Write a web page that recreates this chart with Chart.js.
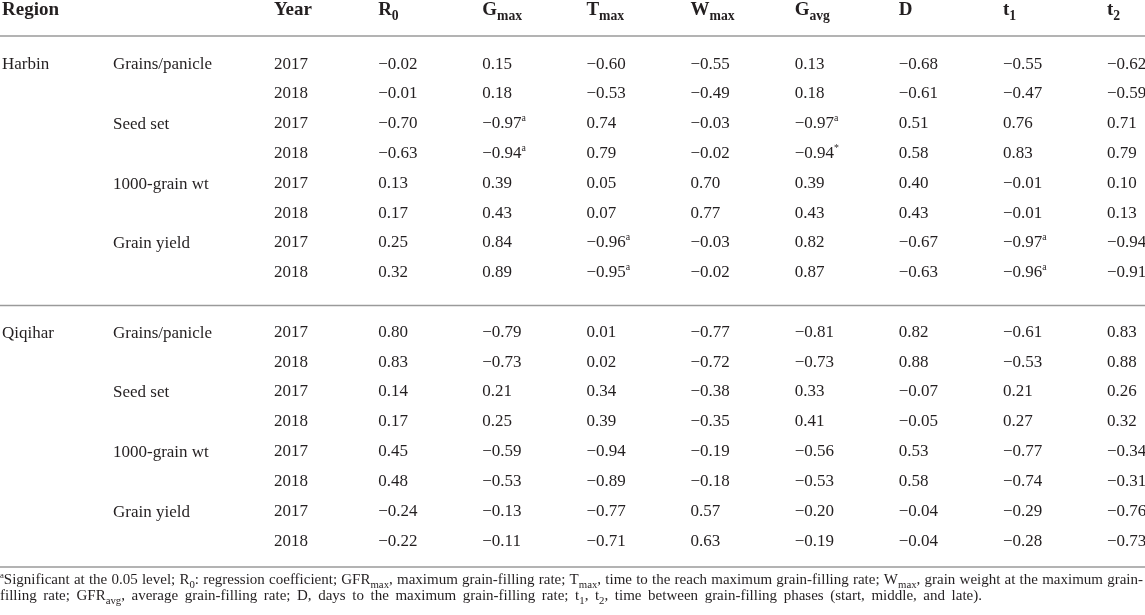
<!DOCTYPE html>
<html>
<head>
<meta charset="utf-8">
<script src="https://cdn.jsdelivr.net/npm/chart.js@4.4.1/dist/chart.umd.min.js"></script>
<style>
  html, body { margin: 0; padding: 0; background: #fff; }
</style>
</head>
<body>
<canvas id="table" width="1145" height="615"></canvas>
<script>
const regions = ['Harbin', 'Qiqihar'];
const traits = ['Grains/panicle', 'Seed set', '1000-grain wt', 'Grain yield'];
const years = ['2017', '2018'];

// column keys, and how the header is written (base + subscript)
const columns = ['Year', 'R0', 'Gmax', 'Tmax', 'Wmax', 'Gavg', 'D', 't1', 't2'];
const headerBase = ['Year', 'R', 'G', 'T', 'W', 'G', 'D', 't', 't'];
const headerSub = ['', '0', 'max', 'max', 'max', 'avg', '', '1', '2'];

// 16 rows per column: Harbin (8) then Qiqihar (8), trait x year order
const R0   = [-0.02, -0.01, -0.70, -0.63, 0.13, 0.17, 0.25, 0.32,   0.80, 0.83, 0.14, 0.17, 0.45, 0.48, -0.24, -0.22];
const Gmax = [0.15, 0.18, -0.97, -0.94, 0.39, 0.43, 0.84, 0.89,     -0.79, -0.73, 0.21, 0.25, -0.59, -0.53, -0.13, -0.11];
const Tmax = [-0.60, -0.53, 0.74, 0.79, 0.05, 0.07, -0.96, -0.95,   0.01, 0.02, 0.34, 0.39, -0.94, -0.89, -0.77, -0.71];
const Wmax = [-0.55, -0.49, -0.03, -0.02, 0.70, 0.77, -0.03, -0.02, -0.77, -0.72, -0.38, -0.35, -0.19, -0.18, 0.57, 0.63];
const Gavg = [0.13, 0.18, -0.97, -0.94, 0.39, 0.43, 0.82, 0.87,     -0.81, -0.73, 0.33, 0.41, -0.56, -0.53, -0.20, -0.19];
const D    = [-0.68, -0.61, 0.51, 0.58, 0.40, 0.43, -0.67, -0.63,   0.82, 0.88, -0.07, -0.05, 0.53, 0.58, -0.04, -0.04];
const t1   = [-0.55, -0.47, 0.76, 0.83, -0.01, -0.01, -0.97, -0.96, -0.61, -0.53, 0.21, 0.27, -0.77, -0.74, -0.29, -0.28];
const t2   = [-0.62, -0.59, 0.71, 0.79, 0.10, 0.13, -0.94, -0.91,   0.83, 0.88, 0.26, 0.32, -0.34, -0.31, -0.76, -0.73];

// [column, row, mark]
const significant = [
    ['Gmax', 2, 'a'], ['Gmax', 3, 'a'],
    ['Tmax', 6, 'a'], ['Tmax', 7, 'a'],
    ['Gavg', 2, 'a'], ['Gavg', 3, '*'],
    ['t1', 6, 'a'], ['t1', 7, 'a']
];

const footnote = [
    [['a', 'sup'], ['Significant at the 0.05 level; R'], ['0', 'sub'], [': regression coefficient; GFR'], ['max', 'sub'],
     [', maximum grain-filling rate; T'], ['max', 'sub'], [', time to the reach maximum grain-filling rate; W'], ['max', 'sub'],
     [', grain weight at the maximum grain-']],
    [['filling rate; GFR'], ['avg', 'sub'], [', average grain-filling rate; D, days to the maximum grain-filling rate; t'], ['1', 'sub'],
     [', t'], ['2', 'sub'], [', time between grain-filling phases (start, middle, and late).']]
];

const valuesByColumn = { R0, Gmax, Tmax, Wmax, Gavg, D, t1, t2 };

// look
const FAMILY = '"Liberation Serif", "DejaVu Serif", serif';
const INK = '#231f20';
const RULE = '#9a9a9a';
const NOTE_SIZE = 15;
const NOTE_WIDTHS = [1143, 982];   // the two footnote lines are set justified to these

// rows: one key per table line, with an empty separator between the regions
const rows = [];
regions.forEach((region, r) => {
    if (r > 0) rows.push({ key: 'sep' + r, sep: true });
    traits.forEach((trait, t) => {
        years.forEach((year, y) => {
            rows.push({ key: region + '|' + trait + '|' + year, region: (t === 0 && y === 0) ? region : '', trait: y === 0 ? trait : '', year });
        });
    });
});
const dataRows = rows.filter(r => !r.sep);
const rowKeys = rows.map(r => r.key);

const fmt = v => v.toFixed(2).replace('-', '\u2212');
const markFor = (col, i) => {
    const hit = significant.find(s => s[0] === col && s[1] === i);
    return hit ? hit[2] : '';
};

const datasets = columns.map(col => ({
    label: col,
    data: dataRows.map(r => ({ x: col, y: r.key })),
    cells: dataRows.map((r, i) => col === 'Year'
        ? [[r.year]]
        : [[fmt(valuesByColumn[col][i])], [markFor(col, i), 'sup']]),
    showLine: false,
    pointRadius: 0
}));

function segFont(kind, size, weight) {
    const s = kind === 'sub' ? size * 0.72 : kind === 'sup' ? size * 0.58 : size;
    return weight + ' ' + s + 'px ' + FAMILY;
}
function segShift(kind, size) {
    return kind === 'sub' ? size * 0.27 : kind === 'sup' ? -size * 0.42 : 0;
}
// draws (or only measures) a run of text pieces with sub/superscripts
function rich(ctx, segs, x, base, size, weight, gap, draw) {
    let cx = x;
    segs.forEach(([text, kind]) => {
        if (!text) return;
        ctx.font = segFont(kind, size, weight);
        const parts = (!kind && gap) ? text.split(' ') : [text];
        parts.forEach((p, i) => {
            if (i > 0) cx += ctx.measureText(' ').width + gap;
            if (draw) ctx.fillText(p, cx, base + segShift(kind, size));
            cx += ctx.measureText(p).width;
        });
    });
    return cx - x;
}
const spaceCount = segs => segs.reduce((n, [t, k]) => n + (k ? 0 : (t.match(/ /g) || []).length), 0);

const tableText = {
    id: 'tableText',
    afterDatasetsDraw(chart) {
        const ctx = chart.ctx;
        const x = chart.scales.x;
        const y = chart.scales.y;
        const area = chart.chartArea;
        ctx.save();
        ctx.fillStyle = INK;
        ctx.textAlign = 'left';
        ctx.textBaseline = 'alphabetic';

        // header
        ctx.font = 'bold 19px ' + FAMILY;
        ctx.fillText('Region', 2, 15);
        columns.forEach((col, i) => {
            rich(ctx, [[headerBase[i]], [headerSub[i], 'sub']], x.getPixelForValue(i) + 4, 15, 19, 'bold', 0, true);
        });

        // cells
        chart.data.datasets.forEach((ds, di) => {
            chart.getDatasetMeta(di).data.forEach((pt, j) => {
                rich(ctx, ds.cells[j], pt.x + 4, pt.y + 5.5, 17, 'normal', 0, true);
            });
        });

        // rules
        ctx.strokeStyle = RULE;
        ctx.lineWidth = 1.3;
        const sepY = rows.filter(r => r.sep).map(r => y.getPixelForValue(rowKeys.indexOf(r.key)) + 4);
        [36, ...sepY, area.bottom + 27].forEach(py => {
            ctx.beginPath();
            ctx.moveTo(0, py);
            ctx.lineTo(chart.width, py);
            ctx.stroke();
        });

        // footnote
        footnote.forEach((line, li) => {
            const natural = rich(ctx, line, 0, 0, NOTE_SIZE, 'normal', 0, false);
            const gap = Math.max(0, (NOTE_WIDTHS[li] - natural) / spaceCount(line));
            rich(ctx, line, 0, area.bottom + 44 + li * 16, NOTE_SIZE, 'normal', gap, true);
        });
        ctx.restore();
    }
};

const labelTicks = {
    autoSkip: false,
    padding: 0,
    crossAlign: 'far',
    labelOffset: 2,
    color: INK,
    font: { family: FAMILY, size: 17 }
};

new Chart(document.getElementById('table'), {
    type: 'line',
    data: { datasets },
    options: {
        responsive: false,
        animation: false,
        events: [],
        layout: { padding: { top: 63, bottom: 75, left: 2, right: 42 } },
        plugins: { legend: { display: false }, tooltip: { enabled: false } },
        scales: {
            x: { type: 'category', labels: columns, offset: false, display: false },
            y: {
                type: 'category', labels: rowKeys, offset: false, position: 'left', weight: 0,
                grid: { display: false }, border: { display: false },
                ticks: { ...labelTicks, callback: (v, i) => rows[i].trait || '' },
                afterFit: s => { s.width = 157; }
            },
            yRegion: {
                type: 'category', labels: rowKeys, offset: false, position: 'left', weight: 1,
                grid: { display: false }, border: { display: false },
                ticks: { ...labelTicks, callback: (v, i) => rows[i].region || '' },
                afterFit: s => { s.width = 111; }
            }
        }
    },
    plugins: [tableText]
});
</script>
</body>
</html>
